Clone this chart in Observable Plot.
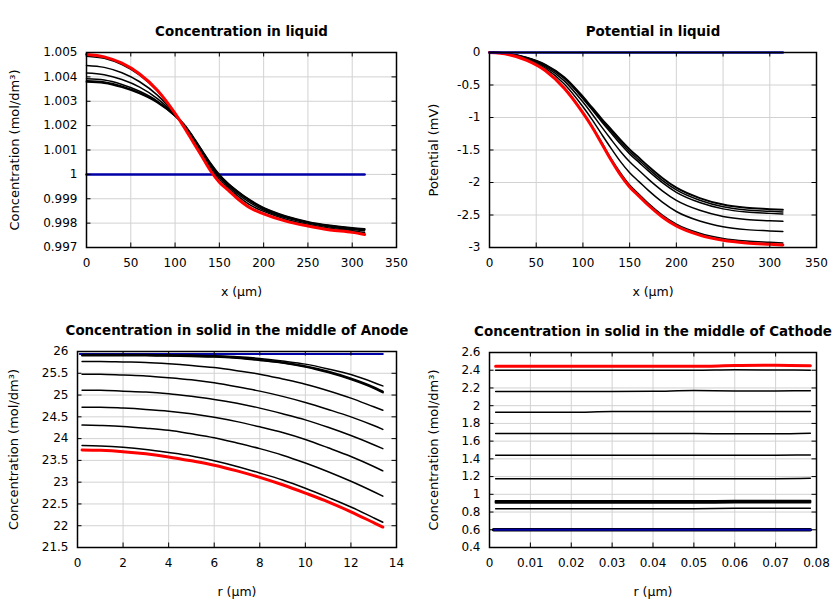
<!DOCTYPE html>
<html>
<head>
<meta charset="utf-8">
<script src="https://cdn.jsdelivr.net/npm/d3@7"></script>
<script src="https://cdn.jsdelivr.net/npm/@observablehq/plot@0.6"></script>
<style>
  body { margin: 0; background: #fff; }
  #root { position: relative; width: 840px; height: 600px; background: #fff; }
  #root > svg { position: absolute; }
</style>
</head>
<body>
<div id="root"></div>
<script>
// ---------- Panel 1: Concentration in liquid ----------
const liqX = [0, 20, 40, 60, 80, 100, 110, 120, 130, 140, 150, 160, 170, 185, 200, 225, 250, 275, 300, 314];
const liqLineX = [0, 314];
const concLiqInitial = [1.0, 1.0];
const concLiqFinal = [1.00492, 1.00482, 1.00456, 1.00412, 1.00345, 1.00250, 1.00195, 1.00135, 1.00075, 1.00015, 0.99968, 0.99935, 0.99902, 0.99862, 0.99838, 0.99808, 0.99788, 0.99772, 0.99762, 0.99753];
const concLiqT1 = [1.00485, 1.00476, 1.00450, 1.00407, 1.00342, 1.00249, 1.00196, 1.00136, 1.00077, 1.00017, 0.99970, 0.99937, 0.99904, 0.99864, 0.99839, 0.99809, 0.99789, 0.99773, 0.99763, 0.99754];
const concLiqT2 = [1.00447, 1.00439, 1.00417, 1.00380, 1.00325, 1.00246, 1.00199, 1.00143, 1.00085, 1.00027, 0.99980, 0.99946, 0.99914, 0.99874, 0.99848, 0.99816, 0.99795, 0.99779, 0.99769, 0.99762];
const concLiqT3 = [1.00416, 1.00409, 1.00389, 1.00358, 1.00311, 1.00243, 1.00202, 1.00149, 1.00092, 1.00035, 0.99988, 0.99953, 0.99922, 0.99883, 0.99854, 0.99822, 0.99800, 0.99784, 0.99774, 0.99769];
const concLiqT4 = [1.00392, 1.00387, 1.00369, 1.00341, 1.00301, 1.00241, 1.00204, 1.00153, 1.00097, 1.00042, 0.99995, 0.99959, 0.99929, 0.99890, 0.99859, 0.99826, 0.99803, 0.99788, 0.99778, 0.99773];
const concLiqT5 = [1.00384, 1.00379, 1.00362, 1.00335, 1.00297, 1.00240, 1.00205, 1.00154, 1.00099, 1.00044, 0.99997, 0.99961, 0.99931, 0.99892, 0.99861, 0.99827, 0.99804, 0.99789, 0.99779, 0.99775];
const concLiqT6 = [1.00380, 1.00375, 1.00358, 1.00332, 1.00295, 1.00240, 1.00205, 1.00155, 1.00100, 1.00045, 0.99998, 0.99962, 0.99932, 0.99893, 0.99862, 0.99828, 0.99805, 0.99790, 0.99780, 0.99776];
const liqXTicks = [0, 50, 100, 150, 200, 250, 300, 350];
const liqXTickLabels = ["0", "50", "100", "150", "200", "250", "300", "350"];
const concLiqYTicks = [0.997, 0.998, 0.999, 1.0, 1.001, 1.002, 1.003, 1.004, 1.005];
const concLiqYTickLabels = ["0.997", "0.998", "0.999", "1", "1.001", "1.002", "1.003", "1.004", "1.005"];

// ---------- Panel 2: Potential in liquid ----------
const potLiqInitial = [0, 0];
const potLiqFinal = [0, -0.03, -0.12, -0.28, -0.55, -0.93, -1.15, -1.40, -1.65, -1.88, -2.07, -2.21, -2.35, -2.53, -2.67, -2.81, -2.89, -2.93, -2.95, -2.96];
const potLiqT1 = [0, -0.03, -0.12, -0.28, -0.54, -0.92, -1.14, -1.38, -1.63, -1.85, -2.04, -2.18, -2.32, -2.50, -2.64, -2.78, -2.86, -2.90, -2.92, -2.93];
const potLiqT2 = [0, -0.026, -0.105, -0.246, -0.485, -0.835, -1.036, -1.256, -1.471, -1.675, -1.850, -1.986, -2.122, -2.302, -2.446, -2.593, -2.681, -2.725, -2.745, -2.755];
const potLiqT3 = [0, -0.023, -0.093, -0.220, -0.436, -0.763, -0.949, -1.145, -1.335, -1.518, -1.681, -1.815, -1.948, -2.128, -2.275, -2.428, -2.522, -2.568, -2.588, -2.598];
const potLiqT4 = [0, -0.021, -0.085, -0.201, -0.400, -0.710, -0.886, -1.066, -1.236, -1.405, -1.560, -1.691, -1.822, -2.002, -2.151, -2.308, -2.406, -2.455, -2.475, -2.485];
const potLiqT5 = [0, -0.021, -0.082, -0.195, -0.390, -0.695, -0.868, -1.043, -1.208, -1.372, -1.525, -1.655, -1.786, -1.966, -2.115, -2.274, -2.373, -2.422, -2.442, -2.452];
const potLiqT6 = [0, -0.020, -0.080, -0.190, -0.380, -0.680, -0.850, -1.020, -1.180, -1.340, -1.490, -1.620, -1.750, -1.930, -2.080, -2.240, -2.340, -2.390, -2.410, -2.420];
const potYTicks = [-3, -2.5, -2, -1.5, -1, -0.5, 0];
const potYTickLabels = ["-3", "-2.5", "-2", "-1.5", "-1", "-0.5", "0"];

// ---------- Panel 3: Concentration in solid, Anode ----------
const anodeR = [0.2, 1, 2, 3, 4, 5, 6, 7, 8, 9, 10, 11, 12, 13, 13.4];
const anodeLineR = [0.1, 13.4];
const anodeInitial = [25.94, 25.94];
const anodeFinal = [23.74, 23.73, 23.70, 23.65, 23.58, 23.49, 23.39, 23.26, 23.11, 22.94, 22.75, 22.55, 22.32, 22.07, 21.97];
const anodeT1 = [25.93, 25.93, 25.93, 25.93, 25.92, 25.92, 25.90, 25.88, 25.84, 25.78, 25.71, 25.60, 25.47, 25.29, 25.21];
const anodeT2 = [25.92, 25.92, 25.92, 25.92, 25.91, 25.90, 25.89, 25.86, 25.81, 25.75, 25.66, 25.54, 25.38, 25.18, 25.08];
const anodeT2b = [25.91, 25.91, 25.91, 25.91, 25.90, 25.89, 25.88, 25.85, 25.80, 25.74, 25.65, 25.52, 25.36, 25.16, 25.06];
const anodeT3 = [25.77, 25.77, 25.76, 25.75, 25.72, 25.68, 25.63, 25.56, 25.48, 25.37, 25.25, 25.10, 24.93, 24.73, 24.65];
const anodeT4 = [25.48, 25.48, 25.46, 25.44, 25.40, 25.35, 25.28, 25.19, 25.09, 24.97, 24.83, 24.67, 24.50, 24.30, 24.21];
const anodeT5 = [25.11, 25.11, 25.09, 25.07, 25.03, 24.97, 24.90, 24.81, 24.70, 24.57, 24.43, 24.26, 24.07, 23.86, 23.77];
const anodeT6 = [24.72, 24.72, 24.70, 24.67, 24.63, 24.57, 24.49, 24.39, 24.27, 24.14, 23.98, 23.79, 23.59, 23.36, 23.26];
const anodeT7 = [24.31, 24.30, 24.28, 24.24, 24.19, 24.11, 24.02, 23.90, 23.77, 23.62, 23.44, 23.24, 23.02, 22.78, 22.68];
const anodeT8 = [23.84, 23.83, 23.80, 23.75, 23.68, 23.60, 23.49, 23.36, 23.21, 23.05, 22.86, 22.65, 22.43, 22.18, 22.08];
const anodeXTicks = [0, 2, 4, 6, 8, 10, 12, 14];
const anodeXTickLabels = ["0", "2", "4", "6", "8", "10", "12", "14"];
const anodeYTicks = [21.5, 22, 22.5, 23, 23.5, 24, 24.5, 25, 25.5, 26];
const anodeYTickLabels = ["21.5", "22", "22.5", "23", "23.5", "24", "24.5", "25", "25.5", "26"];

// ---------- Panel 4: Concentration in solid, Cathode ----------
const cathodeR = [0.0015, 0.01, 0.02, 0.03, 0.04, 0.05, 0.06, 0.07, 0.0785];
const cathodeLineR = [0.001, 0.0785];
const cathodeInitial = [0.6, 0.6];
const cathodeT0 = [0.6, 0.6];
const cathodeFinal = [2.445, 2.445, 2.445, 2.445, 2.445, 2.445, 2.452, 2.456, 2.45];
const cathodeT1 = [2.40, 2.40, 2.40, 2.40, 2.40, 2.40, 2.405, 2.403, 2.40];
const cathodeT2 = [2.160, 2.160, 2.160, 2.160, 2.162, 2.170, 2.167, 2.167, 2.168];
const cathodeT3 = [1.925, 1.925, 1.925, 1.935, 1.935, 1.935, 1.934, 1.934, 1.935];
const cathodeT4 = [1.685, 1.685, 1.685, 1.685, 1.685, 1.685, 1.683, 1.683, 1.690];
const cathodeT5 = [1.440, 1.440, 1.440, 1.440, 1.440, 1.440, 1.442, 1.442, 1.444];
const cathodeT6 = [1.177, 1.177, 1.177, 1.177, 1.177, 1.177, 1.177, 1.177, 1.180];
const cathodeT7 = [0.925, 0.925, 0.925, 0.925, 0.925, 0.924, 0.928, 0.928, 0.928];
const cathodeT8 = [0.915, 0.915, 0.915, 0.915, 0.915, 0.915, 0.918, 0.918, 0.918];
const cathodeT9 = [0.905, 0.905, 0.905, 0.905, 0.905, 0.905, 0.907, 0.907, 0.907];
const cathodeT10 = [0.838, 0.838, 0.838, 0.838, 0.838, 0.838, 0.842, 0.842, 0.842];
const cathodeXTicks = [0, 0.01, 0.02, 0.03, 0.04, 0.05, 0.06, 0.07, 0.08];
const cathodeXTickLabels = ["0", "0.01", "0.02", "0.03", "0.04", "0.05", "0.06", "0.07", "0.08"];
const cathodeYTicks = [0.4, 0.6, 0.8, 1.0, 1.2, 1.4, 1.6, 1.8, 2.0, 2.2, 2.4, 2.6];
const cathodeYTickLabels = ["0.4", "0.6", "0.8", "1", "1.2", "1.4", "1.6", "1.8", "2", "2.2", "2.4", "2.6"];

// ---------- styles ----------
const BLACK = "#000000", RED = "#ff0000", BLUE = "#0000a8", GRID = "#d2d2d2";

function rows(xs, ys, k) { return xs.map((x, i) => ({x, y: ys[i], k})); }

function panel(cfg) {
  const W = 420, H = 300;
  const innerW = W - cfg.ml - cfg.mr, innerH = H - cfg.mt - cfg.mb;
  const lineMarks = cfg.series.map((s, i) =>
    Plot.line(rows(s.xs, s.ys, i), {x: "x", y: "y", stroke: s.color, strokeWidth: s.width, curve: "monotone-x"})
  );
  const tickLen = 4.5;
  const svg = Plot.plot({
    width: W, height: H,
    marginLeft: cfg.ml, marginRight: cfg.mr, marginTop: cfg.mt, marginBottom: cfg.mb,
    style: {fontFamily: "'DejaVu Sans', sans-serif", fontSize: "12px", background: "transparent", overflow: "visible"},
    x: {domain: cfg.xDomain},
    y: {domain: cfg.yDomain},
    marks: [
      Plot.gridX(cfg.xTicks, {stroke: GRID, strokeOpacity: 1, strokeWidth: 1}),
      Plot.gridY(cfg.yTicks, {stroke: GRID, strokeOpacity: 1, strokeWidth: 1}),
      ...lineMarks,
      Plot.ruleX(cfg.xTicks, {stroke: BLACK, strokeWidth: 1, insetTop: innerH - tickLen}),
      Plot.ruleX(cfg.xTicks, {stroke: BLACK, strokeWidth: 1, insetBottom: innerH - tickLen}),
      Plot.ruleY(cfg.yTicks, {stroke: BLACK, strokeWidth: 1, insetRight: innerW - tickLen}),
      Plot.ruleY(cfg.yTicks, {stroke: BLACK, strokeWidth: 1, insetLeft: innerW - tickLen}),
      Plot.frame({stroke: BLACK, strokeWidth: 1.5}),
      Plot.axisX(cfg.xTicks, {tickSize: 0, tickPadding: 11, label: null, fill: BLACK,
        tickFormat: d => cfg.xTickLabels[cfg.xTicks.indexOf(d)]}),
      Plot.axisY(cfg.yTicks, {tickSize: 0, tickPadding: 9, label: null, fill: BLACK,
        tickFormat: d => cfg.yTickLabels[cfg.yTicks.indexOf(d)]}),
      Plot.text([cfg.title], {text: d => d, frameAnchor: "top", dy: -26, textAnchor: "middle", fontWeight: "bold", fontSize: 13.4, fill: BLACK}),
      Plot.text([cfg.xLabel], {text: d => d, frameAnchor: "bottom", dy: 48, textAnchor: "middle", fontSize: 12.5, fill: BLACK}),
      Plot.text([cfg.yLabel], {text: d => d, frameAnchor: "left", dx: cfg.yLabelDx, rotate: -90, textAnchor: "middle", lineAnchor: "middle", fontSize: 13, fill: BLACK})
    ]
  });
  svg.style.left = cfg.left + "px";
  svg.style.top = cfg.top + "px";
  document.getElementById("root").appendChild(svg);
}

const concLabel = "Concentration (mol/dm³)";

panel({
  left: 0, top: 0, ml: 86, mr: 24, mt: 52, mb: 53,
  xDomain: [0, 350], yDomain: [0.997, 1.005],
  xTicks: liqXTicks, xTickLabels: liqXTickLabels,
  yTicks: concLiqYTicks, yTickLabels: concLiqYTickLabels,
  title: "Concentration in liquid", xLabel: "x (µm)", yLabel: concLabel, yLabelDx: -72,
  series: [
    {xs: liqLineX, ys: concLiqInitial, color: BLUE, width: 2.5},
    {xs: liqX, ys: concLiqT1, color: BLACK, width: 1.5},
    {xs: liqX, ys: concLiqT2, color: BLACK, width: 1.5},
    {xs: liqX, ys: concLiqT3, color: BLACK, width: 1.5},
    {xs: liqX, ys: concLiqT4, color: BLACK, width: 1.5},
    {xs: liqX, ys: concLiqT5, color: BLACK, width: 1.5},
    {xs: liqX, ys: concLiqT6, color: BLACK, width: 2},
    {xs: liqX, ys: concLiqFinal, color: RED, width: 3}
  ]
});

panel({
  left: 420, top: 0, ml: 69, mr: 24, mt: 52, mb: 53,
  xDomain: [0, 350], yDomain: [-3, 0],
  xTicks: liqXTicks, xTickLabels: liqXTickLabels,
  yTicks: potYTicks, yTickLabels: potYTickLabels,
  title: "Potential in liquid", xLabel: "x (µm)", yLabel: "Potential (mV)", yLabelDx: -56,
  series: [
    {xs: liqX, ys: potLiqT1, color: BLACK, width: 1.5},
    {xs: liqX, ys: potLiqT2, color: BLACK, width: 1.5},
    {xs: liqX, ys: potLiqT3, color: BLACK, width: 1.5},
    {xs: liqX, ys: potLiqT4, color: BLACK, width: 1.5},
    {xs: liqX, ys: potLiqT5, color: BLACK, width: 1.5},
    {xs: liqX, ys: potLiqT6, color: BLACK, width: 2},
    {xs: liqX, ys: potLiqFinal, color: RED, width: 3},
    {xs: liqLineX, ys: potLiqInitial, color: BLUE, width: 2.5}
  ]
});

panel({
  left: 0, top: 300, ml: 77, mr: 24, mt: 51, mb: 53,
  xDomain: [0, 14], yDomain: [21.5, 26],
  xTicks: anodeXTicks, xTickLabels: anodeXTickLabels,
  yTicks: anodeYTicks, yTickLabels: anodeYTickLabels,
  title: "Concentration in solid in the middle of Anode", xLabel: "r (µm)", yLabel: concLabel, yLabelDx: -64,
  series: [
    {xs: anodeLineR, ys: anodeInitial, color: BLUE, width: 2},
    {xs: anodeR, ys: anodeT1, color: BLACK, width: 1.5},
    {xs: anodeR, ys: anodeT2, color: BLACK, width: 2},
    {xs: anodeR, ys: anodeT2b, color: BLACK, width: 2},
    {xs: anodeR, ys: anodeT3, color: BLACK, width: 1.5},
    {xs: anodeR, ys: anodeT4, color: BLACK, width: 1.5},
    {xs: anodeR, ys: anodeT5, color: BLACK, width: 1.5},
    {xs: anodeR, ys: anodeT6, color: BLACK, width: 1.5},
    {xs: anodeR, ys: anodeT7, color: BLACK, width: 1.5},
    {xs: anodeR, ys: anodeT8, color: BLACK, width: 1.5},
    {xs: anodeR, ys: anodeFinal, color: RED, width: 3}
  ]
});

panel({
  left: 420, top: 300, ml: 69, mr: 24, mt: 52, mb: 53,
  xDomain: [0, 0.08], yDomain: [0.4, 2.6],
  xTicks: cathodeXTicks, xTickLabels: cathodeXTickLabels,
  yTicks: cathodeYTicks, yTickLabels: cathodeYTickLabels,
  title: "Concentration in solid in the middle of Cathode", xLabel: "r (µm)", yLabel: concLabel, yLabelDx: -56,
  series: [
    {xs: cathodeLineR, ys: cathodeT0, color: BLACK, width: 3.5},
    {xs: cathodeLineR, ys: cathodeInitial, color: BLUE, width: 2},
    {xs: cathodeR, ys: cathodeT10, color: BLACK, width: 1.5},
    {xs: cathodeR, ys: cathodeT9, color: BLACK, width: 2},
    {xs: cathodeR, ys: cathodeT8, color: BLACK, width: 2},
    {xs: cathodeR, ys: cathodeT7, color: BLACK, width: 2},
    {xs: cathodeR, ys: cathodeT6, color: BLACK, width: 1.5},
    {xs: cathodeR, ys: cathodeT5, color: BLACK, width: 1.5},
    {xs: cathodeR, ys: cathodeT4, color: BLACK, width: 1.5},
    {xs: cathodeR, ys: cathodeT3, color: BLACK, width: 1.5},
    {xs: cathodeR, ys: cathodeT2, color: BLACK, width: 1.5},
    {xs: cathodeR, ys: cathodeT1, color: BLACK, width: 1.5},
    {xs: cathodeR, ys: cathodeFinal, color: RED, width: 3}
  ]
});
</script>
</body>
</html>
